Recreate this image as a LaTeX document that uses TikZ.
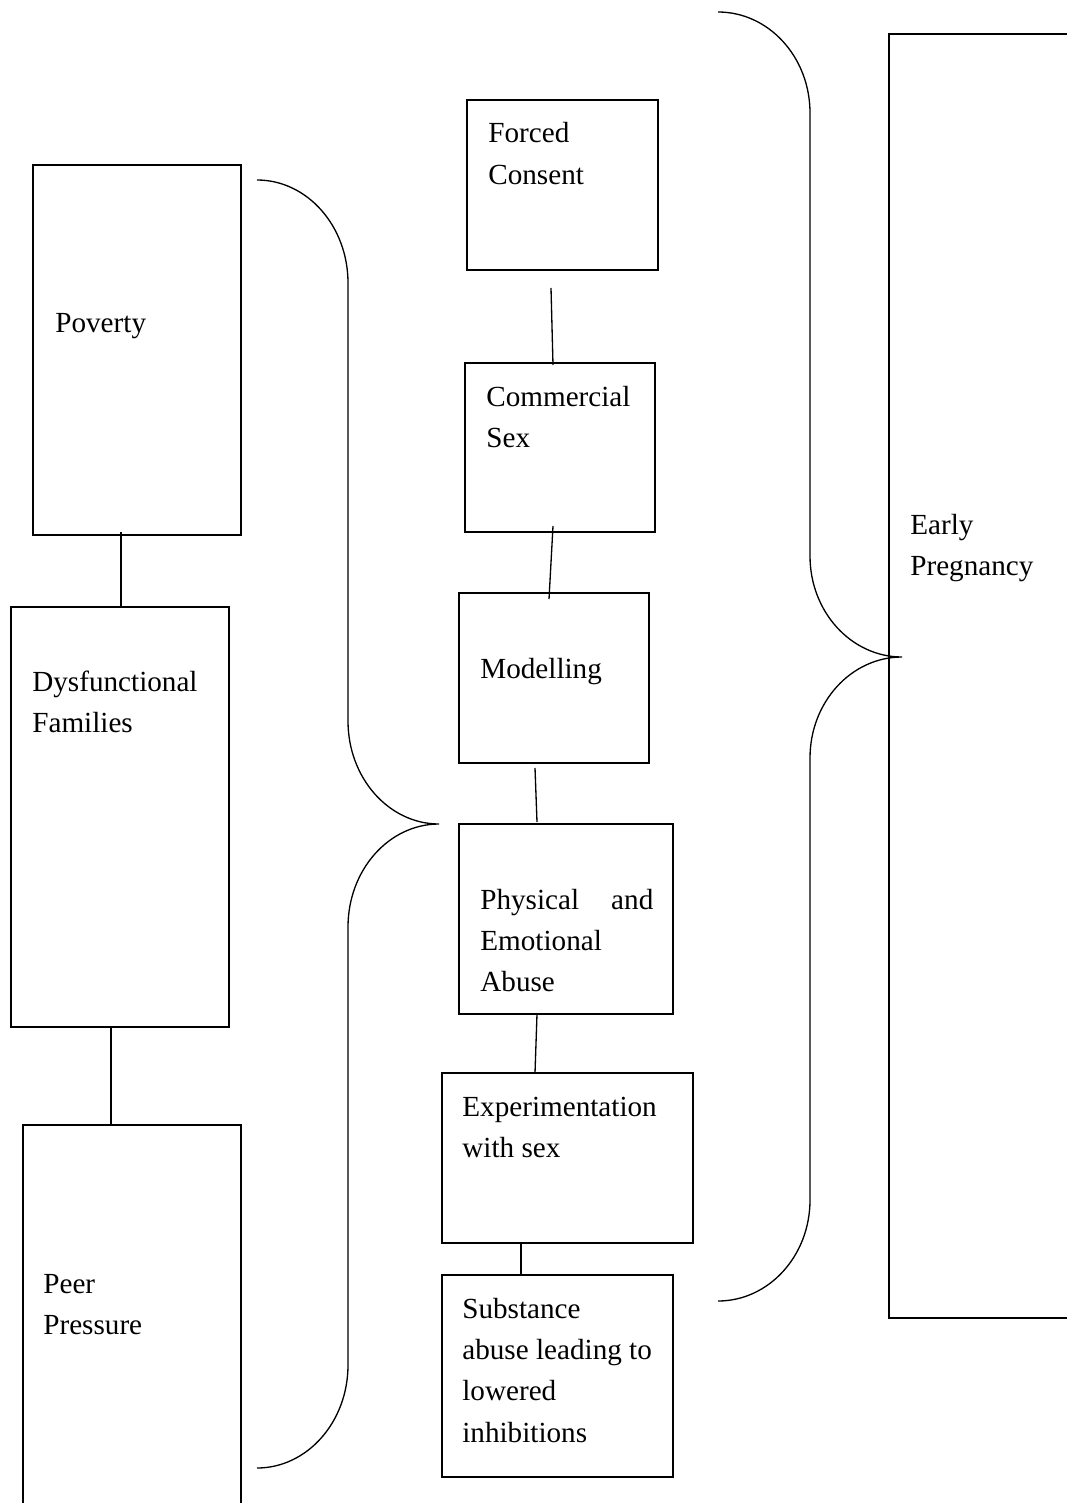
\documentclass[tikz,border=0pt]{standalone}
\usepackage{fontspec}
\setmainfont{Liberation Serif}
\usetikzlibrary{fit}
\begin{document}
\begin{tikzpicture}[x=0.02cm,y=-0.02cm,
  box/.style={draw,line width=0.75pt,inner sep=0pt},
  txt/.style={anchor=base west,inner sep=0pt,font=\fontsize{16.6}{23.6}\selectfont},
  link/.style={line width=0.75pt},
  brace/.style={line width=0.75pt}]
\useasboundingbox (0,0) rectangle (1067,1503);
\clip (0,0) rectangle (1067,1503);
% left column
\node[box,fit={(33,165) (241,535)}] (poverty) {};
\node[box,fit={(11,607) (229,1027)}] (dysf) {};
\node[box,fit={(23,1125) (241,1540)}] (peer) {};
\node[txt] (tpoverty) at (55,333) {Poverty};
\node[txt] (tdysf) at (32,691) {\begin{tabular}[t]{@{}l@{}}Dysfunctional\\Families\end{tabular}};
\node[txt] (tpeer) at (43,1293) {\begin{tabular}[t]{@{}l@{}}Peer\\Pressure\end{tabular}};
% middle column
\node[box,fit={(467,100) (658,270)}] (forced) {};
\node[box,fit={(465,363) (655,532)}] (comm) {};
\node[box,fit={(459,593) (649,763)}] (model) {};
\node[box,fit={(459,824) (673,1014)}] (phys) {};
\node[box,fit={(442,1073) (693,1243)}] (exper) {};
\node[box,fit={(442,1275) (673,1477)}] (subst) {};
\node[txt] (tforced) at (488,143) {\begin{tabular}[t]{@{}l@{}}Forced\\Consent\end{tabular}};
\node[txt] (tcomm) at (486,406) {\begin{tabular}[t]{@{}l@{}}Commercial\\Sex\end{tabular}};
\node[txt] (tmodel) at (480,678) {Modelling};
\node[txt] (tphys) at (480,909) {\begin{tabular}[t]{@{}l@{}}\hbox to 3.46cm{Physical\hfill and}\\Emotional\\Abuse\end{tabular}};
\node[txt] (texper) at (462,1116) {\begin{tabular}[t]{@{}l@{}}Experimentation\\with sex\end{tabular}};
\node[txt] (tsubst) at (462,1318) {\begin{tabular}[t]{@{}l@{}}Substance\\abuse leading to\\lowered\\inhibitions\end{tabular}};
% right box
\node[box,fit={(889,34) (1090,1318)}] (early) {};
\node[txt] (tearly) at (910,534) {\begin{tabular}[t]{@{}l@{}}Early\\Pregnancy\end{tabular}};
% connectors
\coordinate (a1) at (121,532); \coordinate (a2) at (121,607);
\coordinate (b1) at (111,1027); \coordinate (b2) at (111,1125);
\coordinate (c1) at (551,288); \coordinate (c2) at (553,365);
\coordinate (d1) at (553,526); \coordinate (d2) at (549,599);
\coordinate (e1) at (535,768); \coordinate (e2) at (537,822);
\coordinate (f1) at (537,1014); \coordinate (f2) at (535,1073);
\coordinate (g1) at (521,1243); \coordinate (g2) at (521,1275);
\draw[link] (a1) -- (a2);
\draw[link] (b1) -- (b2);
\draw[link] (c1) -- (c2);
\draw[link] (d1) -- (d2);
\draw[link] (e1) -- (e2);
\draw[link] (f1) -- (f2);
\draw[link] (g1) -- (g2);
% left brace
\coordinate (lbtop) at (257,180);
\coordinate (lbtip) at (439,824);
\coordinate (lbbot) at (257,1468);
\draw[brace] (lbtop) .. controls (307.2,180) and (348,226.1) .. (348,283)
  -- (348,721) .. controls (348,777.9) and (388.8,824) .. (lbtip)
  .. controls (388.8,824) and (348,870.1) .. (348,927)
  -- (348,1365) .. controls (348,1421.9) and (307.2,1468) .. (lbbot);
% right brace
\coordinate (rbtop) at (718,12);
\coordinate (rbtip) at (902,657);
\coordinate (rbbot) at (718,1301);
\draw[brace] (rbtop) .. controls (768.8,12) and (810,57.2) .. (810,113)
  -- (810,556) .. controls (810,611.8) and (851.2,657) .. (rbtip)
  .. controls (851.2,657) and (810,702.2) .. (810,758)
  -- (810,1200) .. controls (810,1255.8) and (768.8,1301) .. (rbbot);
\end{tikzpicture}
\end{document}
